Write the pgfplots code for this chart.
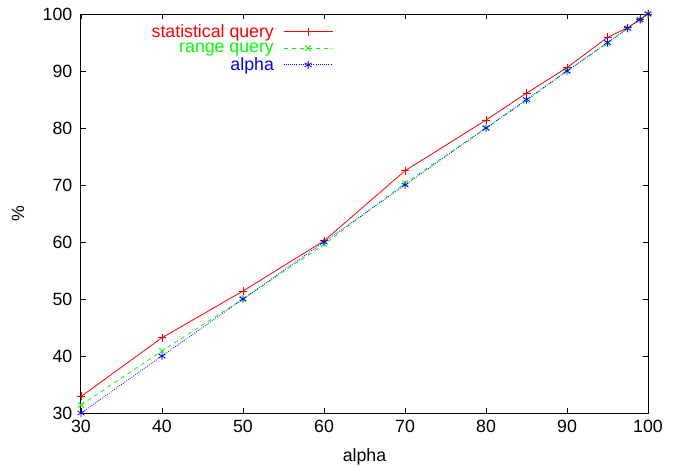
\documentclass[border=0pt]{standalone}
\usepackage{fontspec}
\setmainfont{Liberation Sans}
\usepackage{pgfplots}
\pgfplotsset{compat=1.18}

\pgfplotstableread{
x     sq     rq     al
30    32.9   31.4   30
40    43.2   40.9   40
50    51.4   50.0   50
60    60.2   59.6   60
70    72.5   70.3   70
80    81.4   80.0   80
85    86.1   84.8   85
90    90.6   90.0   90
95    95.9   94.9   95
97.5  97.6   97.5   97.5
99    99.1   99.0   99
100   100    100    100
}\data

\begin{document}
\begin{tikzpicture}[x=0.75pt,y=0.75pt]
\begin{axis}[
  scale only axis,
  width=425.25pt, height=299.25pt,
  xmin=30, xmax=100, ymin=30, ymax=100,
  xtick={30,40,...,100}, ytick={30,40,...,100},
  font=\fontsize{13.3pt}{16pt}\selectfont,
  /pgf/number format/assume math mode=true,
  tick align=inside, major tick length=3.75pt,
  tick style={black, line width=0.6pt},
  axis line style={line width=0.75pt},
  xlabel={alpha}, ylabel={\%},
  xlabel style={at={(axis description cs:0.5,0)}, anchor=base, yshift=-36.5pt},
  ylabel style={at={(axis description cs:-0.111,0.5)}, anchor=center},
  xticklabel style={yshift=-2pt},
  yticklabel style={xshift=-3pt},
  legend style={draw=none, fill=none, at={(0.452,0.988)}, anchor=north east,
    legend cell align=right, row sep=-1.5pt, column sep=5pt,
    font=\fontsize{13.3pt}{16pt}\selectfont},
  legend plot pos=right,
  legend image code/.code={\draw[mark repeat=2,mark phase=2,#1]
    plot coordinates {(0pt,0pt) (18.4pt,0pt) (36.75pt,0pt)};},
  every axis plot/.append style={line width=0.6pt},
]
\addplot[color=red, solid, mark=+, mark size=3pt, mark options={solid,red}] table[x=x,y=sq] {\data};
\addlegendentry{\textcolor{red}{statistical query}}
\addplot[color=green, dashed, mark=x, mark size=3pt, mark options={solid}] table[x=x,y=rq] {\data};
\addlegendentry{\textcolor{green}{range query}}
\addplot[color=blue, densely dotted, mark=asterisk, mark size=3pt, mark options={solid}] table[x=x,y=al] {\data};
\addlegendentry{\textcolor{blue}{alpha}}
\end{axis}
\pgfresetboundingbox
\path[use as bounding box] (-81,-52) rectangle (599,413);
\end{tikzpicture}
\end{document}
